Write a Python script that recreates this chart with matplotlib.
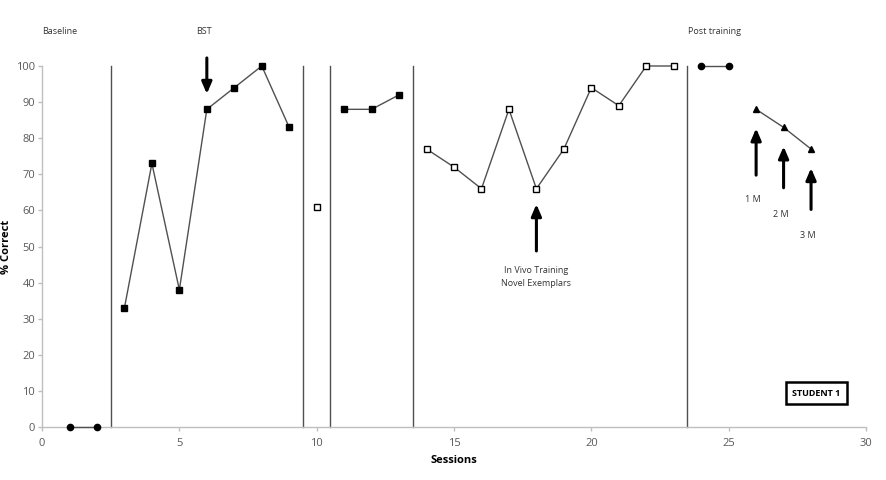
import numpy as np
import matplotlib.pyplot as plt

# datos
base_x = [1, 2]
base_y = [0, 0]
bst_x = [3, 4, 5, 6, 7, 8, 9]
bst_y = [33, 73, 38, 88, 94, 100, 83]
probe_x = [10]
probe_y = [61]
bst2_x = [11, 12, 13]
bst2_y = [88, 88, 92]
vivo_x = [14, 15, 16, 17, 18, 19, 20, 21, 22, 23]
vivo_y = [77, 72, 66, 88, 66, 77, 94, 89, 100, 100]
post_x = [24, 25]
post_y = [100, 100]
follow_x = [26, 27, 28]
follow_y = [88, 83, 77]
follow_labels = ["1 M", "2 M", "3 M"]
phase_lines = [2.5, 9.5, 10.5, 13.5, 23.5]

plt.rcParams['font.family'] = ['Open Sans', 'DejaVu Sans']
fig = plt.figure(figsize=(8.87, 4.8), dpi=100)
ax = fig.add_axes([0.0474, 0.1104, 0.9289, 0.7521])

line_col = '#505050'
kw = dict(color=line_col, lw=1, clip_on=False, zorder=3)

ax.plot(base_x, base_y, marker='o', ms=4.5, mfc='black', mec='black', **kw)
ax.plot(bst_x, bst_y, marker='s', ms=4.5, mfc='black', mec='black', **kw)
ax.plot(probe_x, probe_y, marker='s', ms=4.5, mfc='white', mec='black', ls='none', clip_on=False, zorder=3)
ax.plot(bst2_x, bst2_y, marker='s', ms=4.5, mfc='black', mec='black', **kw)
ax.plot(vivo_x, vivo_y, marker='s', ms=4.5, mfc='white', mec='black', **kw)
ax.plot(post_x, post_y, marker='o', ms=4.5, mfc='black', mec='black', **kw)
ax.plot(follow_x, follow_y, marker='^', ms=4, mfc='black', mec='black', **kw)

for xv in phase_lines:
    ax.plot([xv, xv], [0, 100], color='#505050', lw=1, zorder=2, clip_on=False)

# textos de fases
txt_kw = dict(fontsize=6.5, color='#333333', va='center')
ax.text(0, 109.5, 'Baseline', ha='left', **txt_kw)
ax.text(5.9, 109.5, 'BST', ha='center', **txt_kw)
ax.text(24.5, 109.5, 'Post training', ha='center', **txt_kw)

arrow_kw = dict(arrowstyle='-|>,head_width=0.3,head_length=0.7', color='black', lw=2.2)
# flecha BST
ax.annotate('', xy=(6, 91.5), xytext=(6, 103), arrowprops=arrow_kw, annotation_clip=False)
# flecha in vivo
ax.annotate('', xy=(18, 62.5), xytext=(18, 48), arrowprops=arrow_kw)
ax.text(18, 41.5, 'In Vivo Training\nNovel Exemplars', ha='center', va='center',
        fontsize=6.5, color='#333333', linespacing=1.5)

# flechas de seguimiento
arrow_starts = [69, 65.5, 59.5]
label_y = [63, 59, 53]
for xv, yv, ys, lab, ly in zip(follow_x, follow_y, arrow_starts, follow_labels, label_y):
    ax.annotate('', xy=(xv, yv - 4.5), xytext=(xv, ys), arrowprops=arrow_kw)
    ax.text(xv - 0.1, ly, lab, ha='center', va='center', fontsize=6.5, color='#333333')

ax.text(28.2, 9.4, 'STUDENT 1', ha='center', va='center', fontsize=6.5, fontweight='bold',
        bbox=dict(boxstyle='square,pad=0.7', facecolor='white', edgecolor='black', lw=1.8))

ax.set_xlim(0, 30)
ax.set_ylim(0, 100)
ax.set_xticks(np.arange(0, 31, 5))
ax.set_yticks(np.arange(0, 101, 10))
ax.spines['top'].set_visible(False)
ax.spines['right'].set_visible(False)
for s in ['left', 'bottom']:
    ax.spines[s].set_color('#bfbfbf')
    ax.spines[s].set_linewidth(1)
ax.tick_params(colors='#bfbfbf', labelcolor='#595959', labelsize=8, length=3, width=1)
ax.tick_params(axis='y', pad=2)
ax.tick_params(axis='x', pad=5)
ax.set_xlabel('Sessions', fontsize=8, fontweight='bold', labelpad=4)
ax.set_ylabel('% Correct', fontsize=8, fontweight='bold')
ax.yaxis.set_label_coords(-0.036, 0.5)

fig.savefig('out.png', dpi=100)
